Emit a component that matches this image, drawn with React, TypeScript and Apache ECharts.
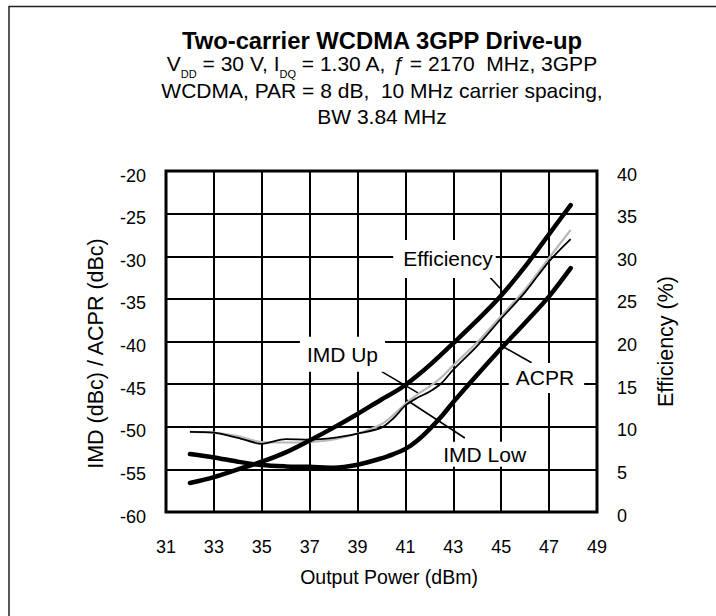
import React, { useEffect, useRef } from 'react';
import * as echarts from 'echarts';

// Output power (dBm) sample points shared by all curves
const outputPower = [32, 33, 34, 35, 36, 37, 38, 39, 40, 40.5, 41, 41.5, 42, 42.5, 43, 44, 45, 46, 47, 47.9];
// Efficiency (%) - right axis
const efficiency = [3.4, 4.1, 5.0, 5.9, 7.0, 8.4, 9.9, 11.5, 13.2, 14.0, 14.9, 16.0, 17.2, 18.5, 19.8, 22.5, 25.4, 28.8, 32.6, 36.0];
// IMD Up (dBc) - left axis
const imdUp = [-50.6, -50.7, -51.1, -51.8, -51.85, -51.8, -51.5, -50.8, -49.7, -48.6, -47.3, -46.2, -45.3, -44.2, -42.8, -40.1, -37.0, -33.9, -30.2, -26.9];
// IMD Low (dBc) - left axis
const imdLow = [-50.6, -50.7, -51.3, -52.0, -51.45, -51.5, -51.3, -50.8, -50.1, -49.0, -47.5, -46.6, -45.9, -44.9, -43.3, -40.5, -37.3, -34.2, -30.6, -28.0];
// ACPR (dBc) - left axis
const acpr = [-53.2, -53.6, -54.1, -54.5, -54.65, -54.7, -54.8, -54.45, -53.7, -53.2, -52.6, -51.6, -50.3, -48.8, -47.1, -43.9, -40.8, -37.8, -34.7, -31.4];

// Axis ranges [min, max, interval]
const xRange = [31, 49, 2];
const yLeftRange = [-60, -20, 5];
const yRightRange = [0, 40, 5];

// Title texts
const titleText = 'Two-carrier WCDMA 3GPP Drive-up';
const subLine1 = [
  ['V', 'n'], ['DD', 's'], [' = 30 V, I', 'n'], ['DQ', 's'], [' = 1.30 A, ', 'n'], ['ƒ', 'i'], [' = 2170  MHz, 3GPP', 'n'],
];
const subLine2 = 'WCDMA, PAR = 8 dB,  10 MHz carrier spacing,';
const subLine3 = 'BW 3.84 MHz';

// Callout labels (data coordinates on left axis)
const calloutTexts = ['Efficiency', 'IMD Up', 'ACPR', 'IMD Low'];
const calloutAt = [[42.63, -30.32], [38.37, -41.49], [46.89, -44.28], [44.31, -53.22]];
const leaderStart = [[44.18, -31.41], [40.01, -43.54], [46.27, -42.49], [43.48, -51.32]];
const leaderEnd = [[44.95, -33.76], [41.54, -46.06], [45.08, -40.61], [41.05, -46.86]];

const FONT = '"Liberation Sans", Arial, Helvetica, sans-serif';

const zip = (xs: number[], ys: number[]) => xs.map((x, i) => [x, ys[i]]);

function buildLine1(cx: number, cy: number) {
  const canvas = document.createElement('canvas');
  const ctx = canvas.getContext('2d') as CanvasRenderingContext2D;
  const fonts: Record<string, string> = {
    n: `21px ${FONT}`,
    i: `italic 21px ${FONT}`,
    s: `11px ${FONT}`,
  };
  const widths = subLine1.map(([t, k]) => {
    ctx.font = fonts[k];
    return ctx.measureText(t).width;
  });
  const total = widths.reduce((a, b) => a + b, 0);
  let x = cx - total / 2;
  const els: any[] = [];
  subLine1.forEach(([t, k], i) => {
    els.push({
      type: 'text', x, y: k === 's' ? cy + 10.5 : cy, silent: true,
      style: {
        text: t, fill: '#000', font: fonts[k], lineHeight: k === 's' ? 8 : 15,
        textAlign: 'left', textVerticalAlign: 'middle', align: 'left', verticalAlign: 'middle',
      },
    });
    x += widths[i];
  });
  return els;
}

export default function App() {
  const ref = useRef<HTMLDivElement>(null);
  useEffect(() => {
    if (!ref.current) return;
    const chart = echarts.init(ref.current, undefined, { renderer: 'svg' });
    const calloutPads = [[6, 3, 11, 10], [6, 7, 8, 7], [7, 10, 2, 7], [1, 6, 3, 6]];
    const centerText = (text: string, y: number, font: string, lh: number) => ({
      type: 'text', x: 382, y, silent: true,
      style: {
        text, fill: '#000', font, lineHeight: lh,
        textAlign: 'center', textVerticalAlign: 'middle', align: 'center', verticalAlign: 'middle',
      },
    });
    const option: any = {
      animation: false,
      backgroundColor: '#fff',
      textStyle: { fontFamily: FONT },
      grid: {
        left: 166, top: 171, right: 119, bottom: 104,
        show: true, borderColor: '#000', borderWidth: 3, backgroundColor: 'transparent',
      },
      graphic: [
        {
          type: 'rect', silent: true, z: 100,
          shape: { x: 9, y: 6.5, width: 760, height: 660 },
          style: { fill: 'none', stroke: '#222', lineWidth: 1.5 },
        },
        centerText(titleText, 40, `bold 23.8px ${FONT}`, 16),
        ...buildLine1(382, 63.5),
        centerText(subLine2, 90, `21px ${FONT}`, 15),
        centerText(subLine3, 116, `21px ${FONT}`, 15),
      ],
      xAxis: {
        type: 'value', min: xRange[0], max: xRange[1], interval: xRange[2],
        name: 'Output Power (dBm)', nameLocation: 'middle', nameGap: 55,
        nameTextStyle: { fontSize: 19.5, color: '#000', fontFamily: FONT, padding: [0, 0, 0, 15] },
        axisLine: { show: false }, axisTick: { show: false },
        axisLabel: { fontSize: 18, color: '#000', margin: 26, fontFamily: FONT },
        splitLine: { show: true, lineStyle: { color: '#000', width: 2 } },
      },
      yAxis: [
        {
          type: 'value', min: yLeftRange[0], max: yLeftRange[1], interval: yLeftRange[2],
          position: 'left',
          name: 'IMD (dBc) / ACPR (dBc)', nameLocation: 'middle', nameGap: 59,
          nameTextStyle: { fontSize: 21.5, color: '#000', fontFamily: FONT, padding: [0, 24, 0, 0] },
          axisLine: { show: false }, axisTick: { show: false },
          axisLabel: {
            fontSize: 18, color: '#000', margin: 20, fontFamily: FONT,
            verticalAlign: 'top', lineHeight: 9,
          },
          splitLine: { show: true, lineStyle: { color: '#000', width: 2 } },
        },
        {
          type: 'value', min: yRightRange[0], max: yRightRange[1], interval: yRightRange[2],
          position: 'right',
          name: 'Efficiency (%)', nameLocation: 'middle', nameGap: 58,
          nameTextStyle: { fontSize: 21.5, color: '#000', fontFamily: FONT },
          axisLine: { show: false }, axisTick: { show: false },
          axisLabel: {
            fontSize: 18, color: '#000', margin: 20, fontFamily: FONT,
            verticalAlign: 'top', lineHeight: 7,
          },
          splitLine: { show: false },
        },
      ],
      series: [
        {
          type: 'line', name: 'callouts', data: [], z: 3, silent: true,
          markPoint: {
            silent: true, symbol: 'circle', symbolSize: 0.1,
            itemStyle: { color: 'rgba(0,0,0,0)' },
            emphasis: { disabled: true },
            data: calloutTexts.map((t, i) => ({
              name: t, coord: calloutAt[i], value: t,
              label: {
                show: true, position: 'inside', formatter: t, color: '#000',
                fontSize: 21, lineHeight: 21, fontFamily: FONT,
                backgroundColor: '#fff', padding: calloutPads[i],
              },
            })),
          },
        },
        {
          type: 'line', name: 'leaders', data: [], z: 4, silent: true,
          markLine: {
            silent: true, symbol: ['none', 'none'], label: { show: false },
            emphasis: { disabled: true },
            lineStyle: { color: '#000', width: 1.6, type: 'solid' },
            data: leaderStart.map((p, i) => [{ coord: p }, { coord: leaderEnd[i] }]),
          },
        },
        {
          type: 'line', name: 'IMD Up', yAxisIndex: 0, z: 5,
          data: zip(outputPower, imdUp), showSymbol: false, smooth: 0.3,
          lineStyle: { color: '#b8b8b8', width: 2.2 },
        },
        {
          type: 'line', name: 'IMD Low', yAxisIndex: 0, z: 6,
          data: zip(outputPower, imdLow), showSymbol: false, smooth: 0.3,
          lineStyle: { color: '#000', width: 1.8 },
        },
        {
          type: 'line', name: 'ACPR', yAxisIndex: 0, z: 7,
          data: zip(outputPower, acpr), showSymbol: false, smooth: 0.3,
          lineStyle: { color: '#000', width: 4.5, cap: 'round' },
        },
        {
          type: 'line', name: 'Efficiency', yAxisIndex: 1, z: 8,
          data: zip(outputPower, efficiency), showSymbol: false, smooth: 0.3,
          lineStyle: { color: '#000', width: 4.5, cap: 'round' },
        },
      ],
    };
    chart.setOption(option);
    return () => chart.dispose();
  }, []);
  return (
    <div
      ref={ref}
      style={{ position: 'absolute', left: 0, top: 0, width: 716, height: 616, background: '#fff' }}
    />
  );
}
